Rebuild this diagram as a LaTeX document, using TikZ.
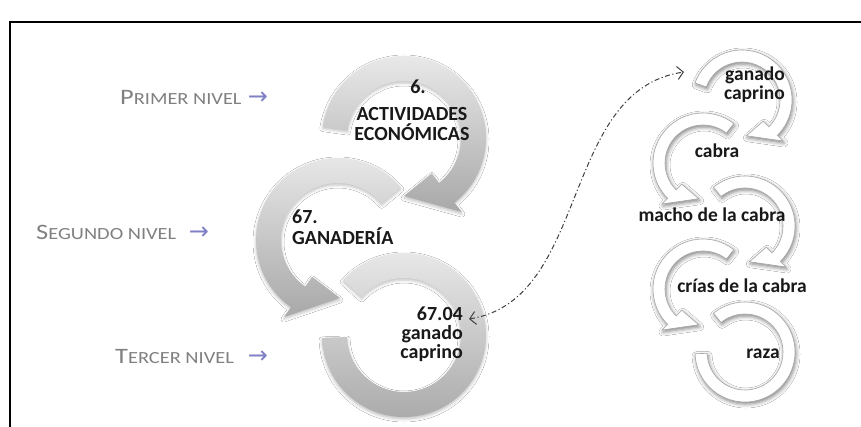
\documentclass[tikz,border=0pt]{standalone}
\usepackage{fontspec}
\setmainfont{Carlito}
\newfontfamily\arrowfont{DejaVu Sans}
\usepackage{graphicx}
\usetikzlibrary{calc,arrows.meta,shadows.blur}

% ring with arrow head: #1 style, #2 centre, #3 rin, #4 rout, #5 start, #6 head base, #7 tip angle, #8 tip radius, #9 head extra
\newcommand{\ringhead}[9]{%
  \path[#1] ($(#2)+(#5:#4)$) arc[start angle=#5, end angle=#6, radius=#4]
    -- ($(#2)+(#6:{#4+#9})$) -- ($(#2)+(#7:#8)$) -- ($(#2)+(#6:{#3-#9})$) -- ($(#2)+(#6:#3)$)
    arc[start angle=#6, end angle=#5, radius=#3] -- cycle;}
% ring with two flat ends: #1 style, #2 centre, #3 rin, #4 rout, #5 start, #6 end
\newcommand{\ringflat}[6]{%
  \path[#1] ($(#2)+(#5:#4)$) arc[start angle=#5, end angle=#6, radius=#4]
    -- ($(#2)+(#6:#3)$) arc[start angle=#6, end angle=#5, radius=#3] -- cycle;}

\newcommand{\lvB}{\fontsize{22}{22}\selectfont}
\newcommand{\lvS}{\fontsize{17}{17}\selectfont}

\begin{document}
\begin{tikzpicture}[x=1pt,y=-1pt,
  grayring/.style={top color=black!8, bottom color=black!34, draw=none,
    blur shadow={shadow xshift=0pt, shadow yshift=-2pt, shadow blur radius=3pt, shadow opacity=25}},
  whitering/.style={fill=white, draw=black!35, line width=0.6pt,
    blur shadow={shadow xshift=1pt, shadow yshift=-2pt, shadow blur radius=4pt, shadow opacity=50}},
  gtext/.style={font=\fontsize{20}{20}\selectfont\bfseries, text=black!90, inner sep=0pt},
  wtext/.style={font=\fontsize{19.5}{18}\selectfont\bfseries, text=black!90, inner sep=0pt},
  lvl/.style={text=black!50, inner sep=0pt, anchor=base west},
  lvarrow/.style={text=black!45!blue!50!white, inner sep=0pt, font=\arrowfont\fontsize{24}{24}\selectfont},
  link/.style={draw=black!75, line width=1pt, dash pattern=on 5pt off 2.5pt on 1.2pt off 2.5pt,
    {Straight Barb[length=6pt,width=13pt,line width=1pt]}-{Straight Barb[length=6pt,width=13pt,line width=1pt]}}
]
\useasboundingbox (0,0) rectangle (861,427);
\fill[white] (0,0) rectangle (861,427);
% frame
\draw[line width=1.4pt] (10,440) -- (10,22) -- (875,22);

% centres
\coordinate (c1) at (404,138);
\coordinate (c2) at (338,240);
\coordinate (c3) at (404,335);
\coordinate (cA) at (742,100);
\coordinate (cB) at (703,163);
\coordinate (cC) at (745,226);
\coordinate (cD) at (703,289);
\coordinate (cE) at (745,352);

% grey rings
\ringflat{grayring}{c3}{57}{82}{222}{538}
\ringhead{grayring}{c2}{57}{82}{320}{125}{88}{58}{12}
\ringhead{grayring}{c1}{57}{82}{188}{412}{450}{58}{12}

% white rings
\ringflat{whitering}{cE}{38}{50}{231}{538}
\ringhead{whitering}{cD}{38}{50}{308}{135}{97}{36}{8}
\ringhead{whitering}{cC}{38}{50}{231}{405}{443}{36}{8}
\ringhead{whitering}{cB}{38}{50}{308}{135}{97}{36}{8}
\ringhead{whitering}{cA}{38}{50}{200}{405}{443}{36}{8}

% level labels
\node[lvl] (l1) at (120,105) {\scalebox{1.2}[1]{\lvB P\lvS RIMER NIVEL}};
\node[lvarrow] (a1) at (258,98) {→};
\node[lvl] (l2) at (36,240) {\scalebox{1.2}[1]{\lvB S\lvS EGUNDO NIVEL}};
\node[lvarrow] (a2) at (199,233) {→};
\node[lvl] (l3) at (115,363) {\scalebox{1.2}[1]{\lvB T\lvS ERCER NIVEL}};
\node[lvarrow] (a3) at (258,357) {→};

% grey texts
\node[gtext, anchor=base] (g1a) at (418,94) {6.};
\node[gtext, anchor=base] (g1b) at (412,121) {ACTIVIDADES};
\node[gtext, anchor=base] (g1c) at (412,141) {ECONÓMICAS};
\node[gtext, anchor=base west] (g2a) at (292,224) {67.};
\node[gtext, anchor=base west] (g2b) at (292,245) {GANADERÍA};
\node[gtext, anchor=base east] (g3a) at (463,320) {67.04};
\node[gtext, anchor=base east] (g3b) at (463,339) {ganado};
\node[gtext, anchor=base east] (g3c) at (463,358) {caprino};

% white texts
\node[wtext, anchor=base east] (w1a) at (785,81) {ganado};
\node[wtext, anchor=base east] (w1b) at (785,100) {caprino};
\node[wtext, anchor=base] (w2) at (717,158) {cabra};
\node[wtext, anchor=base] (w3) at (712,222) {macho de la cabra};
\node[wtext, anchor=base] (w4) at (742,293) {crías de la cabra};
\node[wtext, anchor=base] (w5) at (763,358) {raza};

% dash-dot link
\coordinate (d1) at (469,319);
\coordinate (d2) at (684,72);
\draw[link] (d1) .. controls (590,300) and (560,90) .. (d2);
\end{tikzpicture}
\end{document}
